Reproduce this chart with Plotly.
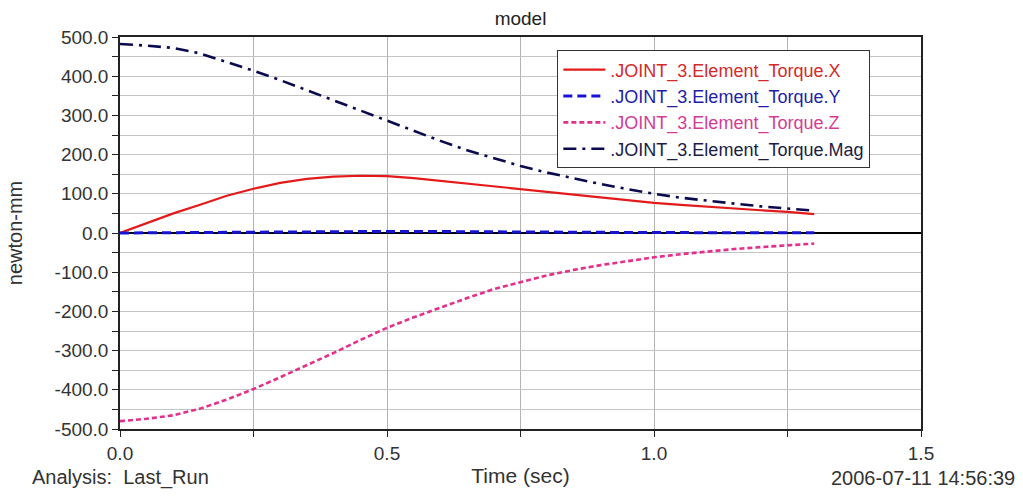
import plotly.graph_objects as go

# Simulation output for JOINT_3 element torque (newton-mm), sampled every 0.05 s
time_s = [0.0, 0.05, 0.1, 0.15, 0.2, 0.25, 0.3, 0.35, 0.4, 0.45, 0.5, 0.55, 0.6, 0.65,
          0.7, 0.75, 0.8, 0.85, 0.9, 0.95, 1.0, 1.05, 1.1, 1.15, 1.2, 1.25, 1.3]

torque_x = [0, 25, 50, 72, 95, 113, 128, 138, 144, 146, 145, 140, 133, 127,
            120, 113, 105, 98, 91, 84, 77, 72, 67, 62, 58, 54, 48]

torque_y = [0, 0.5, 1, 1.5, 2, 3, 3.5, 4, 4, 4, 4, 4, 3.5, 3,
            3, 2.5, 2, 1.5, 1.5, 1, 1, 1, 1, 1, 0.5, 0.5, 0.5]

torque_z = [-480, -474, -465, -448, -425, -398, -368, -338, -306, -273, -242, -215, -190, -166,
            -143, -125, -108, -94, -82, -72, -62, -54, -47, -41, -36, -31, -27]

torque_mag = [482, 478, 472, 458, 436, 414, 390, 364, 338, 311, 287, 260, 235, 211,
              190, 171, 154, 139, 125, 112, 100, 90, 82, 75, 68, 62, 57]

series_names = [".JOINT_3.Element_Torque.X", ".JOINT_3.Element_Torque.Y",
                ".JOINT_3.Element_Torque.Z", ".JOINT_3.Element_Torque.Mag"]

# Y-axis tick values and their labels (plain hyphen for negatives)
y_tick_values = [-500, -400, -300, -200, -100, 0, 100, 200, 300, 400, 500]
y_tick_labels = ["-500.0", "-400.0", "-300.0", "-200.0", "-100.0", "0.0",
                 "100.0", "200.0", "300.0", "400.0", "500.0"]

line_colors = ["#e41a1a", "#1414d2", "#e2308c", "#0a0a4e"]
text_colors = ["#d42a2a", "#1e1ea8", "#d23c96", "#1c1c48"]
dashes = ["solid", "9px,5px", "5px,3px", "13px,6px,3px,6px"]
widths = [2.2, 3.0, 2.6, 2.6]

FONT = "Liberation Sans, Arial, sans-serif"

fig = go.Figure()
for name, ys, lc, tc, dash, w in zip(series_names,
                                     [torque_x, torque_y, torque_z, torque_mag],
                                     line_colors, text_colors, dashes, widths):
    fig.add_trace(go.Scatter(
        x=time_s, y=ys, mode="lines",
        name=f"<span style='color:{tc}'>{name}</span>",
        line=dict(color=lc, width=w, dash=dash),
    ))

tick_font = dict(family=FONT, size=19, color="#333")

fig.update_xaxes(
    range=[0, 1.5], dtick=0.5, tickformat=".1f",
    showline=True, linecolor="#222", linewidth=1.5, mirror=True,
    ticks="outside", ticklen=6, tickcolor="#222", tickfont=tick_font,
    showgrid=True, gridcolor="#b4b4b4", gridwidth=1,
    minor=dict(dtick=0.25, showgrid=True, gridcolor="#b4b4b4", ticks="outside",
               ticklen=6, tickcolor="#222"),
    title=dict(text="Time (sec)", font=dict(family=FONT, size=21, color="#333"),
               standoff=6),
    zeroline=False,
)

fig.update_yaxes(
    range=[-500, 500], tickmode="array",
    tickvals=y_tick_values, ticktext=y_tick_labels,
    showline=True, linecolor="#222", linewidth=1.5, mirror=True,
    ticks="outside", ticklen=6, tickcolor="#222", tickfont=tick_font,
    showgrid=True, gridcolor="#c4c4c4", gridwidth=1,
    minor=dict(dtick=50, showgrid=True, gridcolor="#c4c4c4", ticks="outside",
               ticklen=6, tickcolor="#222"),
    zeroline=True, zerolinecolor="#000", zerolinewidth=1.5,
    title=dict(text="newton-mm", font=dict(family=FONT, size=20, color="#333"),
               standoff=27),
)

fig.update_layout(
    width=1023, height=496,
    margin=dict(l=120, r=102, t=37, b=63),
    paper_bgcolor="white", plot_bgcolor="white",
    title=dict(text="model", x=0.5, xref="paper", y=0.962, yanchor="middle",
               font=dict(family=FONT, size=19, color="#222")),
    showlegend=True,
    legend=dict(
        x=0.546, y=0.966, xanchor="left", yanchor="top",
        bgcolor="white", bordercolor="#333", borderwidth=1,
        font=dict(family=FONT, size=18),
        itemwidth=42, tracegroupgap=0,
    ),
    annotations=[
        dict(text="Analysis:  Last_Run", xref="paper", yref="paper",
             x=-0.1125, y=-0.124, xanchor="left", yanchor="middle", showarrow=False,
             font=dict(family=FONT, size=20, color="#333")),
        dict(text="2006-07-11 14:56:39", xref="paper", yref="paper",
             x=1.12, y=-0.124, xanchor="right", yanchor="middle", showarrow=False,
             font=dict(family=FONT, size=20, color="#333")),
    ],
)

fig.write_html("out.html")
